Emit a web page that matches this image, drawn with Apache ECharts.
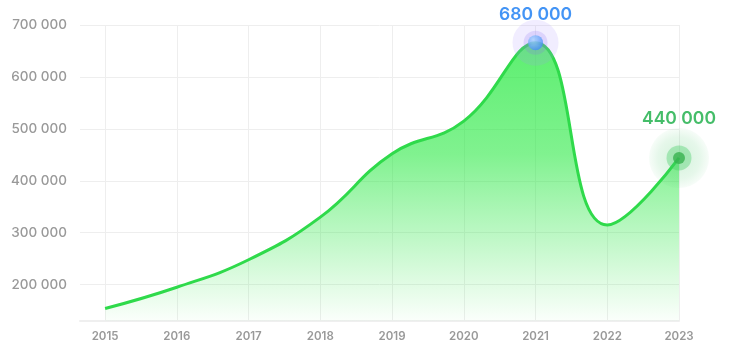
<!DOCTYPE html>
<html>
<head>
<meta charset="utf-8">
<script src="https://cdn.jsdelivr.net/npm/echarts@6/dist/echarts.min.js"></script>
<style>
  html, body { margin: 0; background: #fff; }
  #chart { width: 736px; height: 354px; }
</style>
</head>
<body>
<div id="chart"></div>
<script>
// values
const years = [2015, 2016, 2017, 2018, 2019, 2020, 2021, 2022, 2023];
const sales = [154000, 195000, 248000, 330000, 452000, 515000, 666000, 315000, 444000];
const yTicks = [200000, 300000, 400000, 500000, 600000, 700000];

// highlighted points
const peakYear = 2021;
const peakValue = 666000;
const peakLabel = "680 000";
const lastYear = 2023;
const lastValue = 444000;
const lastLabel = "440 000";

const fmt = (v) => String(v).replace(/\B(?=(\d{3})+(?!\d))/g, " ");

const chart = echarts.init(document.getElementById("chart"));

function dot(x, y, size, color, extra) {
  return Object.assign({
    type: "scatter",
    silent: true,
    symbolSize: size,
    data: [[x, y]],
    itemStyle: { color: color },
    z: 5,
  }, extra || {});
}

chart.setOption({
  animation: false,
  backgroundColor: "#fff",
  grid: { left: 80, right: 57, top: 25, bottom: 33 },
  xAxis: {
    type: "value",
    min: 2014.65,
    max: 2023,
    axisLine: { show: true, lineStyle: { color: "#efefef", width: 2 } },
    axisTick: { show: false, customValues: years },
    axisLabel: {
      customValues: years,
      color: "#999999",
      fontFamily: "Inter",
      fontWeight: 600,
      fontSize: 11.5,
      margin: 10,
      formatter: (v) => String(v),
    },
    splitLine: { show: true, lineStyle: { color: "#eeeeee", width: 1 } },
  },
  yAxis: {
    type: "value",
    min: 130000,
    max: 700000,
    axisLine: { show: false },
    axisTick: { show: false, customValues: yTicks },
    axisLabel: {
      customValues: yTicks,
      color: "#999999",
      fontFamily: "Inter",
      fontWeight: 500,
      fontSize: 13.5,
      margin: 13,
      formatter: fmt,
    },
    splitLine: { show: true, lineStyle: { color: "#eeeeee", width: 1 } },
  },
  series: [
    {
      type: "line",
      smooth: 0.45,
      symbol: "none",
      data: years.map((y, i) => [y, sales[i]]),
      lineStyle: { color: "#2fda4b", width: 3 },
      areaStyle: {
        color: new echarts.graphic.LinearGradient(0, 0, 0, 1, [
          { offset: 0, color: "rgba(22, 232, 50, 1)" },
          { offset: 0.4, color: "rgba(34, 232, 60, 0.82)" },
          { offset: 0.7, color: "rgba(50, 232, 75, 0.45)" },
          { offset: 1, color: "rgba(60, 232, 80, 0.03)" },
        ]),
      },
      z: 2,
    },
    // 2021 marker
    dot(peakYear, peakValue, 46, "rgba(165, 140, 255, 0.2)"),
    dot(peakYear, peakValue, 24, "rgba(140, 110, 240, 0.25)"),
    dot(peakYear, peakValue, 15, new echarts.graphic.RadialGradient(0.35, 0.3, 0.8, [
      { offset: 0, color: "#a9d4ff" },
      { offset: 1, color: "#3c86f5" },
    ]), {
      label: {
        show: true,
        position: "top",
        distance: 11,
        formatter: () => peakLabel,
        color: "#1479f2",
        fontFamily: "Inter",
        fontWeight: 600,
        fontSize: 17.5,
      },
    }),
    // 2023 marker
    dot(lastYear, lastValue, 60, new echarts.graphic.RadialGradient(0.5, 0.5, 0.5, [
      { offset: 0, color: "rgba(60, 195, 95, 0.28)" },
      { offset: 0.7, color: "rgba(60, 195, 95, 0.16)" },
      { offset: 1, color: "rgba(60, 195, 95, 0.05)" },
    ])),
    dot(lastYear, lastValue, 25, "rgba(60, 205, 95, 0.45)"),
    dot(lastYear, lastValue, 12, "#37b24f", {
      label: {
        show: true,
        position: "top",
        distance: 24,
        formatter: () => lastLabel,
        color: "#17ad44",
        fontFamily: "Inter",
        fontWeight: 600,
        fontSize: 17.5,
      },
    }),
  ],
});
</script>
</body>
</html>
